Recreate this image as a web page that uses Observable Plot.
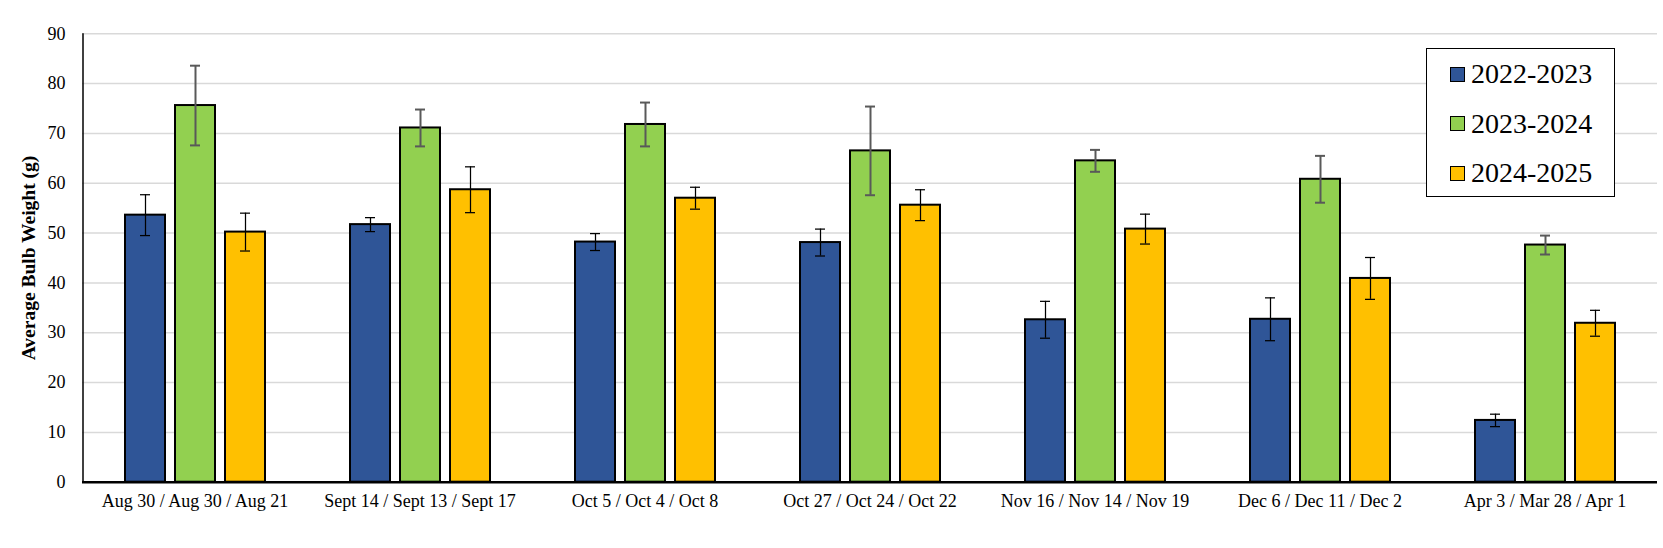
<!DOCTYPE html>
<html>
<head>
<meta charset="utf-8">
<script src="https://cdn.jsdelivr.net/npm/d3@7"></script>
<script src="https://cdn.jsdelivr.net/npm/@observablehq/plot@0.6"></script>
<style>
  html, body { margin: 0; padding: 0; background: #fff; font-family: 'Liberation Serif'; }
  #wrap { position: relative; width: 1663px; height: 548px; }
  #wrap svg, #wrap svg text { font-family: 'Liberation Serif' !important; }
  #wrap svg [aria-label="y-axis label"] text { font-weight: bold; font-size: 19.5px; }
  #legend { position: absolute; left: 1426px; top: 48px; width: 189px; height: 149px;
            border: 1.5px solid #000; box-sizing: border-box; background: #fff;
            font-family: 'Liberation Serif' !important; font-size: 28px; }
  .row { position: absolute; left: 23px; display: flex; align-items: center; height: 30px; }
  .sw { width: 15px; height: 15px; border: 1.5px solid #000; box-sizing: border-box; margin-right: 6px; }
</style>
</head>
<body>
<div id="wrap"></div>
<script>
const groups = ["Aug 30 / Aug 30 / Aug 21", "Sept 14 / Sept 13 / Sept 17", "Oct 5 / Oct 4 / Oct 8",
  "Oct 27 / Oct 24 / Oct 22", "Nov 16 / Nov 14 / Nov 19", "Dec 6 / Dec 11 / Dec 2", "Apr 3 / Mar 28 / Apr 1"];
const series = ["2022-2023", "2023-2024", "2024-2025"];
const colors = ["#2F5597", "#92D050", "#FFC000"];
const v2223 = [53.6, 51.7, 48.2, 48.1, 32.6, 32.7, 12.4];
const e2223 = [4.1, 1.4, 1.7, 2.7, 3.7, 4.3, 1.25];
const v2324 = [75.6, 71.1, 71.8, 66.5, 64.5, 60.8, 47.6];
const e2324 = [8.0, 3.7, 4.4, 8.9, 2.2, 4.7, 1.9];
const v2425 = [50.2, 58.7, 57.0, 55.6, 50.8, 40.9, 31.9];
const e2425 = [3.8, 4.6, 2.2, 3.1, 3.0, 4.2, 2.6];
const yTicks = [0, 10, 20, 30, 40, 50, 60, 70, 80, 90];

const vals = [v2223, v2324, v2425];
const errs = [e2223, e2324, e2425];
const data = [];
groups.forEach((g, i) => series.forEach((s, j) => data.push({g, s, v: vals[j][i], e: errs[j][i]})));
const grey = data.filter(d => d.s === "2023-2024");
const dark = data.filter(d => d.s !== "2023-2024");

const chart = Plot.plot({
  width: 1663, height: 548,
  marginTop: 33.3, marginBottom: 66.3, marginLeft: 82, marginRight: 6,
  style: {fontFamily: "'Liberation Serif'", fontSize: "18px", color: "#000", background: "#fff"},
  fx: {domain: groups, padding: 0, label: null},
  x: {domain: series, paddingInner: 0.2, paddingOuter: 0.85, axis: null},
  y: {domain: [0, 90]},
  color: {domain: series, range: colors},
  marks: [
    Plot.gridY(yTicks, {stroke: "#d9d9d9", strokeOpacity: 1, strokeWidth: 1.5}),
    Plot.axisY(yTicks, {tickSize: 0, tickPadding: 17, fontSize: 18, label: "Average Bulb Weight (g)",
      labelAnchor: "center", labelOffset: 61, labelArrow: "none"}),
    Plot.axisFx({anchor: "bottom", tickSize: 0, tickPadding: 12, fontSize: 18, label: null}),
    // left axis line, drawn in the first facet at its left edge
    Plot.ruleX([{g: groups[0], s: series[0]}], {fx: "g", x: "s", dx: -62.5, y1: 0, y2: 90, stroke: "#000", strokeWidth: 1.5}),
    Plot.barY(data, {fx: "g", x: "s", y: "v", fill: "s", stroke: "#000", strokeWidth: 2}),
    Plot.ruleX(dark, {fx: "g", x: "s", y1: d => d.v - d.e, y2: d => d.v + d.e, stroke: "#000", strokeWidth: 1.25}),
    Plot.tickY(dark, {fx: "g", x: "s", y: d => d.v - d.e, insetLeft: 15, insetRight: 15, stroke: "#000", strokeWidth: 1.25}),
    Plot.tickY(dark, {fx: "g", x: "s", y: d => d.v + d.e, insetLeft: 15, insetRight: 15, stroke: "#000", strokeWidth: 1.25}),
    Plot.ruleX(grey, {fx: "g", x: "s", y1: d => d.v - d.e, y2: d => d.v + d.e, stroke: "#595959", strokeWidth: 2}),
    Plot.tickY(grey, {fx: "g", x: "s", y: d => d.v - d.e, insetLeft: 15, insetRight: 15, stroke: "#595959", strokeWidth: 2}),
    Plot.tickY(grey, {fx: "g", x: "s", y: d => d.v + d.e, insetLeft: 15, insetRight: 15, stroke: "#595959", strokeWidth: 2}),
    Plot.ruleY([0], {stroke: "#000", strokeWidth: 2.5})
  ]
});
const wrap = document.getElementById("wrap");
wrap.appendChild(chart);

const legend = document.createElement("div");
legend.id = "legend";
series.forEach((s, i) => {
  const row = document.createElement("div");
  row.className = "row";
  row.style.top = (10 + i * 49.5) + "px";
  const sw = document.createElement("div");
  sw.className = "sw";
  sw.style.background = colors[i];
  const t = document.createElement("span");
  t.textContent = s;
  row.appendChild(sw); row.appendChild(t);
  legend.appendChild(row);
});
wrap.appendChild(legend);
</script>
</body>
</html>
